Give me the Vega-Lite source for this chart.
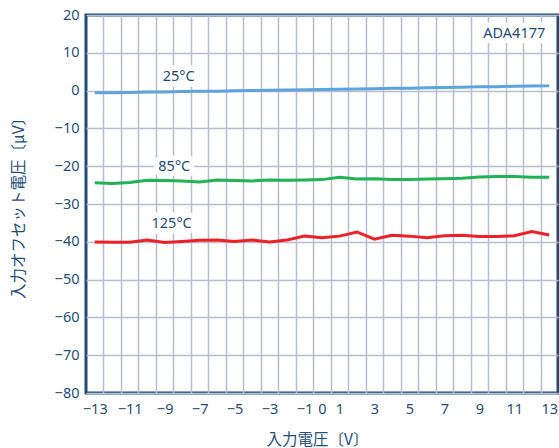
{
  "$schema": "https://vega.github.io/schema/vega-lite/v6.json",
  "width": 472,
  "height": 378,
  "autosize": {"type": "none"},
  "padding": {"left": 86, "top": 15, "right": 1, "bottom": 55},
  "background": "white",
  "config": {
    "view": {"stroke": "#1d4b79", "strokeWidth": 3},
    "axis": {
      "labelFont": "Noto Sans",
      "labelFontSize": 14.5,
      "labelColor": "#1f4e79",
      "titleFont": "Noto Sans CJK JP",
      "titleFontSize": 15.5,
      "titleFontWeight": "normal",
      "titleColor": "#1f4e79",
      "gridColor": "#b9bdd0",
      "gridWidth": 1.5,
      "gridOpacity": 1,
      "ticks": false,
      "tickSize": 0,
      "domain": false
    },
    "axisY": {
      "values": [-80, -70, -60, -50, -40, -30, -20, -10, 0, 10, 20],
      "grid": true,
      "labelPadding": 7,
      "titleX": -68,
      "titleY": 189,
      "titleAngle": -90,
      "titleAlign": "center",
      "titleBaseline": "middle"
    }
  },
  "datasets": {
    "curves": [
      {"x": -13, "y": -0.6, "series": "25°C"},
      {"x": -12, "y": -0.55, "series": "25°C"},
      {"x": -11, "y": -0.5, "series": "25°C"},
      {"x": -10, "y": -0.4, "series": "25°C"},
      {"x": -9, "y": -0.35, "series": "25°C"},
      {"x": -8, "y": -0.25, "series": "25°C"},
      {"x": -7, "y": -0.2, "series": "25°C"},
      {"x": -6, "y": -0.15, "series": "25°C"},
      {"x": -5, "y": -0.05, "series": "25°C"},
      {"x": -4, "y": 0.0, "series": "25°C"},
      {"x": -3, "y": 0.1, "series": "25°C"},
      {"x": -2, "y": 0.15, "series": "25°C"},
      {"x": -1, "y": 0.2, "series": "25°C"},
      {"x": 0, "y": 0.3, "series": "25°C"},
      {"x": 1, "y": 0.35, "series": "25°C"},
      {"x": 2, "y": 0.45, "series": "25°C"},
      {"x": 3, "y": 0.5, "series": "25°C"},
      {"x": 4, "y": 0.6, "series": "25°C"},
      {"x": 5, "y": 0.65, "series": "25°C"},
      {"x": 6, "y": 0.75, "series": "25°C"},
      {"x": 7, "y": 0.85, "series": "25°C"},
      {"x": 8, "y": 0.9, "series": "25°C"},
      {"x": 9, "y": 1.0, "series": "25°C"},
      {"x": 10, "y": 1.05, "series": "25°C"},
      {"x": 11, "y": 1.15, "series": "25°C"},
      {"x": 12, "y": 1.2, "series": "25°C"},
      {"x": 13, "y": 1.25, "series": "25°C"},
      {"x": -13, "y": -24.4, "series": "85°C"},
      {"x": -12, "y": -24.6, "series": "85°C"},
      {"x": -11, "y": -24.3, "series": "85°C"},
      {"x": -10, "y": -23.7, "series": "85°C"},
      {"x": -9, "y": -23.8, "series": "85°C"},
      {"x": -8, "y": -23.9, "series": "85°C"},
      {"x": -7, "y": -24.2, "series": "85°C"},
      {"x": -6, "y": -23.65, "series": "85°C"},
      {"x": -5, "y": -23.8, "series": "85°C"},
      {"x": -4, "y": -23.9, "series": "85°C"},
      {"x": -3, "y": -23.65, "series": "85°C"},
      {"x": -2, "y": -23.7, "series": "85°C"},
      {"x": -1, "y": -23.65, "series": "85°C"},
      {"x": 0, "y": -23.55, "series": "85°C"},
      {"x": 1, "y": -22.9, "series": "85°C"},
      {"x": 2, "y": -23.4, "series": "85°C"},
      {"x": 3, "y": -23.3, "series": "85°C"},
      {"x": 4, "y": -23.5, "series": "85°C"},
      {"x": 5, "y": -23.5, "series": "85°C"},
      {"x": 6, "y": -23.4, "series": "85°C"},
      {"x": 7, "y": -23.3, "series": "85°C"},
      {"x": 8, "y": -23.2, "series": "85°C"},
      {"x": 9, "y": -22.85, "series": "85°C"},
      {"x": 10, "y": -22.75, "series": "85°C"},
      {"x": 11, "y": -22.75, "series": "85°C"},
      {"x": 12, "y": -22.9, "series": "85°C"},
      {"x": 13, "y": -22.9, "series": "85°C"},
      {"x": -13, "y": -40.05, "series": "125°C"},
      {"x": -12, "y": -40.1, "series": "125°C"},
      {"x": -11, "y": -40.1, "series": "125°C"},
      {"x": -10, "y": -39.5, "series": "125°C"},
      {"x": -9, "y": -40.2, "series": "125°C"},
      {"x": -8, "y": -39.9, "series": "125°C"},
      {"x": -7, "y": -39.6, "series": "125°C"},
      {"x": -6, "y": -39.5, "series": "125°C"},
      {"x": -5, "y": -39.9, "series": "125°C"},
      {"x": -4, "y": -39.5, "series": "125°C"},
      {"x": -3, "y": -40.05, "series": "125°C"},
      {"x": -2, "y": -39.5, "series": "125°C"},
      {"x": -1, "y": -38.5, "series": "125°C"},
      {"x": 0, "y": -38.9, "series": "125°C"},
      {"x": 1, "y": -38.5, "series": "125°C"},
      {"x": 2, "y": -37.4, "series": "125°C"},
      {"x": 3, "y": -39.3, "series": "125°C"},
      {"x": 4, "y": -38.3, "series": "125°C"},
      {"x": 5, "y": -38.5, "series": "125°C"},
      {"x": 6, "y": -38.9, "series": "125°C"},
      {"x": 7, "y": -38.4, "series": "125°C"},
      {"x": 8, "y": -38.3, "series": "125°C"},
      {"x": 9, "y": -38.6, "series": "125°C"},
      {"x": 10, "y": -38.6, "series": "125°C"},
      {"x": 11, "y": -38.4, "series": "125°C"},
      {"x": 12, "y": -37.3, "series": "125°C"},
      {"x": 13, "y": -38.2, "series": "125°C"}
    ],
    "labels": [
      {"x": -8.2, "y": 3.6, "text": "25°C"},
      {"x": -8.45, "y": -20.3, "text": "85°C"},
      {"x": -8.6, "y": -35.3, "text": "125°C"},
      {"x": 11.0, "y": 15.0, "text": "ADA4177"}
    ]
  },
  "layer": [
    {
      "data": {"name": "labels"},
      "mark": {"type": "text", "font": "Noto Sans", "fontSize": 14.5, "stroke": "white", "strokeWidth": 11, "strokeJoin": "round", "fill": "white", "align": "center", "baseline": "middle"},
      "encoding": {
        "x": {
          "field": "x", "type": "quantitative",
          "scale": {"domain": [-13.5, 13.5], "nice": false, "zero": false},
          "axis": {
            "orient": "bottom",
            "values": [-12.5, -11.5, -10.5, -9.5, -8.5, -7.5, -6.5, -5.5, -4.5, -3.5, -2.5, -1.5, -0.5, 0.5, 1.5, 2.5, 3.5, 4.5, 5.5, 6.5, 7.5, 8.5, 9.5, 10.5, 11.5, 12.5],
            "labels": false, "grid": true, "title": null
          }
        },
        "y": {
          "field": "y", "type": "quantitative",
          "scale": {"domain": [-80, 20], "nice": false, "zero": false},
          "title": "入力オフセット電圧〔µV〕"
        },
        "text": {"field": "text"}
      }
    },
    {
      "data": {"name": "labels"},
      "mark": {"type": "text", "font": "Noto Sans", "fontSize": 14.5, "color": "#1f4e79", "align": "center", "baseline": "middle"},
      "encoding": {
        "x": {"field": "x", "type": "quantitative", "axis": null},
        "y": {"field": "y", "type": "quantitative", "title": "入力オフセット電圧〔µV〕"},
        "text": {"field": "text"}
      }
    },
    {
      "data": {"name": "curves"},
      "mark": {"type": "line", "strokeWidth": 3},
      "encoding": {
        "x": {
          "field": "x", "type": "quantitative",
          "axis": {
            "orient": "bottom",
            "values": [-13, -11, -9, -7, -5, -3, -1, 0, 1, 3, 5, 7, 9, 11, 13],
            "grid": false, "labelPadding": 9,
            "title": "入力電圧〔V〕",
            "titleX": 231, "titleY": 46, "titleAlign": "center", "titleBaseline": "middle"
          }
        },
        "y": {"field": "y", "type": "quantitative", "title": "入力オフセット電圧〔µV〕"},
        "color": {
          "field": "series", "type": "nominal",
          "scale": {"domain": ["25°C", "85°C", "125°C"], "range": ["#5ba4dc", "#1fb256", "#ee2027"]},
          "legend": null
        }
      }
    }
  ],
  "resolve": {"axis": {"x": "independent"}}
}
